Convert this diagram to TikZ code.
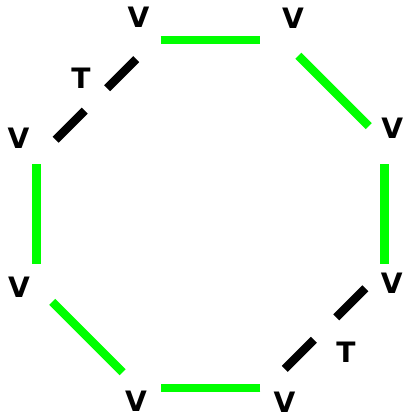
\documentclass[tikz,border=0pt]{standalone}
\usepackage{fontspec}
\setmainfont{DejaVu Sans}
\usetikzlibrary{calc}
\definecolor{vgreen}{RGB}{0,255,0}
\tikzset{
  vtx/.style={circle, inner sep=0pt, minimum size=1.1cm},
  gapnode/.style={circle, inner sep=0pt, minimum size=0.78cm},
  lbl/.style={inner sep=0pt, font=\fontsize{20}{20}\selectfont\bfseries},
  gedge/.style={line width=6pt, draw=vgreen},
  bedge/.style={line width=6pt, draw=black},
}
\begin{document}
\begin{tikzpicture}
\useasboundingbox (-5.2625,-5.1) rectangle (4.8375,5.35);
% vertices and their labels
\foreach \i/\v/\a/\r in {1/112.5/110.1/5.245, 2/67.5/67.2/5.32, 3/22.5/25.2/5.02,
    4/-22.5/-20.8/4.85, 5/-67.5/-68.5/5.05, 6/-112.5/-111.7/5.04,
    7/-157.5/-159.1/5.125, 8/157.5/158.4/5.16} {
  \node[vtx] (v\i) at (\v:4.71) {};
  \node[lbl] (l\i) at (\a:\r) {V};
}
% gaps for the T edges
\node[gapnode] (t1) at ($(v8)!0.5!(v1)$) {};
\node[gapnode] (t2) at ($(v4)!0.5!(v5)$) {};
\node[lbl] (tl1) at (133.7:4.69) {T};
\node[lbl] (tl2) at (-45.5:4.83) {T};
\draw[gedge] (v1) -- (v2);
\draw[gedge] (v2) -- (v3);
\draw[gedge] (v3) -- (v4);
\draw[gedge] (v5) -- (v6);
\draw[gedge] (v6) -- (v7);
\draw[gedge] (v7) -- (v8);
\begin{scope}[transform canvas={shift={(-45:0.3)}}]
  \draw[bedge, shorten <=-0.18cm] (v8) -- (t1);
  \draw[bedge, shorten >=-0.18cm] (t1) -- (v1);
\end{scope}
\begin{scope}[transform canvas={shift={(135:0.3)}}]
  \draw[bedge, shorten <=-0.18cm] (v4) -- (t2);
  \draw[bedge, shorten >=-0.18cm] (t2) -- (v5);
\end{scope}
\end{tikzpicture}
\end{document}
